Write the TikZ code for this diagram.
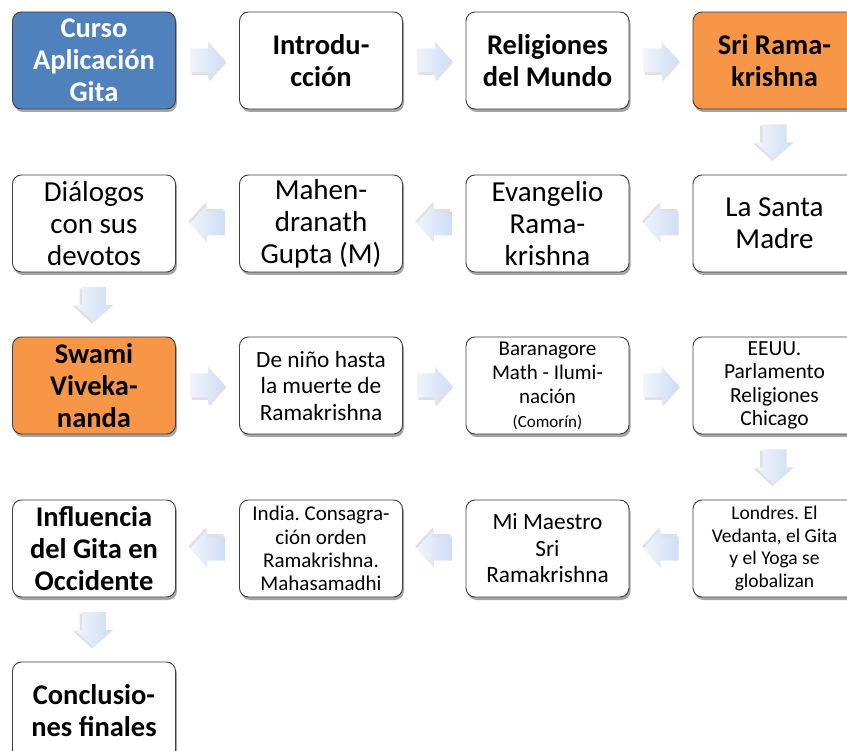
\documentclass[tikz,border=0pt]{standalone}
\usepackage{fontspec}
\setmainfont{Carlito}
\frenchspacing
\usetikzlibrary{shadows,calc}
\definecolor{boxblue}{RGB}{79,129,189}
\definecolor{boxorange}{RGB}{247,150,70}
\definecolor{arrA}{RGB}{240,244,252}
\definecolor{arrB}{RGB}{208,221,245}
\tikzset{
  box/.style={draw=black!75, line width=0.9pt, rounded corners=9pt, fill=white,
    minimum width=163pt, minimum height=97pt, inner sep=2pt, align=center,
    drop shadow={shadow xshift=1.5pt, shadow yshift=-3pt, opacity=0.35, fill=black}},
  big/.style={font=\fontsize{29}{32}\selectfont},
  bigb/.style={font=\fontsize{28.5}{32}\selectfont\bfseries},
  mid/.style={font=\fontsize{23.3}{26.5}\selectfont},
  sml/.style={font=\fontsize{21}{24}\selectfont},
  ssm/.style={font=\fontsize{21.5}{23.3}\selectfont},
  xs/.style={font=\fontsize{19.5}{22.8}\selectfont},
  xi/.style={font=\fontsize{21}{23.3}\selectfont},
  blk/.pic={
    \fill[black, opacity=0.12] (-16,-10.5) -- (1.5,-10.5) -- (1.5,-17) -- (19,2) -- (1.5,21) -- (1.5,14.5) -- (-16,14.5) -- cycle;
    \shade[left color=arrA, right color=arrB] (-17.5,-12) -- (0.5,-12) -- (0.5,-19) -- (17.5,0) -- (0.5,19) -- (0.5,12) -- (-17.5,12) -- cycle;
  }
}
\begin{document}
\begin{tikzpicture}[x=1pt,y=-1pt]
\useasboundingbox (0,0) rectangle (847,751);
% row 1
\node[box,bigb,fill=boxblue,text=white] (a1) at (94,60.5) {Curso\\Aplicación\\Gita};
\node[box,bigb] (a2) at (321,60.5) {Introdu-\\cción};
\node[box,bigb] (a3) at (547.5,60.5) {Religiones\\del Mundo};
\node[box,bigb,fill=boxorange] (a4) at (774.5,60.5) {Sri Rama-\\krishna};
% row 2
\node[box,big] (b4) at (774.5,223.5) {La Santa\\Madre};
\node[box,big] (b3) at (547.5,223.5) {Evangelio\\Rama-\\krishna};
\node[box,big] (b2) at (321,223.5) {Mahen-\\dranath\\Gupta (M)};
\node[box,big] (b1) at (94,223.5) {Diálogos\\con sus\\devotos};
% row 3
\node[box,bigb,fill=boxorange] (c1) at (94,385.5) {Swami\\Viveka-\\nanda};
\node[box,mid] (c2) at (321,385.5) {De niño hasta\\la muerte de\\Ramakrishna};
\node[box,sml] (c3) at (547.5,385.5) {Baranagore\\Math - Ilumi-\\nación\\{\fontsize{17}{20}\selectfont(Comorín)}};
\node[box,ssm] (c4) at (774.5,385.5) {EEUU.\\Parlamento\\Religiones\\Chicago};
% row 4
\node[box,xs] (d4) at (774.5,548.5) {Londres. El\\Vedanta, el Gita\\y el Yoga se\\globalizan};
\node[box,mid] (d3) at (547.5,548.5) {Mi Maestro\\Sri\\Ramakrishna};
\node[box,xi] (d2) at (321,548.5) {India. Consagra-\\ción orden\\Ramakrishna.\\Mahasamadhi};
\node[box,bigb] (d1) at (94,548.5) {Influencia\\del Gita en\\Occidente};
% row 5
\node[box,bigb] (e1) at (94,710.5) {Conclusio-\\nes finales};
% arrows
\pic at ($(a1.east)!0.5!(a2.west)$) {blk};
\pic at ($(a2.east)!0.5!(a3.west)$) {blk};
\pic at ($(a3.east)!0.5!(a4.west)$) {blk};
\pic[rotate=-90] at ($(a4.south)!0.5!(b4.north)$) {blk};
\pic[rotate=180] at ($(b4.west)!0.5!(b3.east)$) {blk};
\pic[rotate=180] at ($(b3.west)!0.5!(b2.east)$) {blk};
\pic[rotate=180] at ($(b2.west)!0.5!(b1.east)$) {blk};
\pic[rotate=-90] at ($(b1.south)!0.5!(c1.north)$) {blk};
\pic at ($(c1.east)!0.5!(c2.west)$) {blk};
\pic at ($(c2.east)!0.5!(c3.west)$) {blk};
\pic at ($(c3.east)!0.5!(c4.west)$) {blk};
\pic[rotate=-90] at ($(c4.south)!0.5!(d4.north)$) {blk};
\pic[rotate=180] at ($(d4.west)!0.5!(d3.east)$) {blk};
\pic[rotate=180] at ($(d3.west)!0.5!(d2.east)$) {blk};
\pic[rotate=180] at ($(d2.west)!0.5!(d1.east)$) {blk};
\pic[rotate=-90] at ($(d1.south)!0.5!(e1.north)$) {blk};
\end{tikzpicture}
\end{document}
